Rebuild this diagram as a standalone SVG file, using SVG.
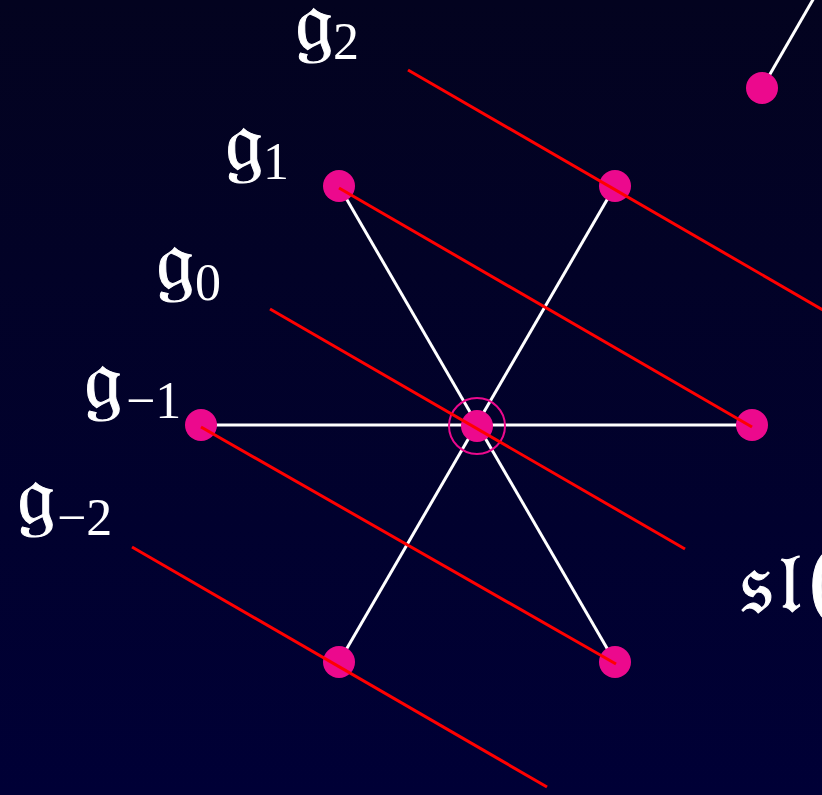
<svg xmlns="http://www.w3.org/2000/svg" width="822" height="795" viewBox="0 0 822 795">
<defs>
<linearGradient id="bg" x1="0" y1="0" x2="0" y2="1">
<stop offset="0" stop-color="#03031f"/>
<stop offset="1" stop-color="#000036"/>
</linearGradient>
<style>
.w{stroke:#ffffff;stroke-width:3;fill:none}
.r{stroke:#ff0000;stroke-width:3;fill:none}
.n{fill:#ec098d}
.lbl{fill:#ffffff;font-family:"DejaVu Serif","DejaVu Sans","Liberation Serif",serif}
.g{font-size:86px;stroke:#ffffff;stroke-width:1}
.s{font-size:52px;font-family:"Liberation Serif",serif}
</style>
</defs>
<rect width="822" height="795" fill="url(#bg)"/>
<g id="connectors">
<line class="w" x1="339" y1="186" x2="615" y2="662"/>
<line class="w" x1="615" y1="186" x2="339" y2="662"/>
<line class="w" x1="201" y1="425" x2="752" y2="425"/>
<line class="w" x1="762" y1="88" x2="822" y2="-16"/>
</g>
<g id="nodes">
<g id="n-center"><circle class="n" cx="477" cy="426" r="16"/><circle cx="477" cy="426" r="28" fill="none" stroke="#ec098d" stroke-width="2"/></g>
<g id="n-ul"><circle class="n" cx="339" cy="186" r="16"/></g>
<g id="n-ur"><circle class="n" cx="615" cy="186" r="16"/></g>
<g id="n-l"><circle class="n" cx="201" cy="425" r="16"/></g>
<g id="n-r"><circle class="n" cx="752" cy="425" r="16"/></g>
<g id="n-dl"><circle class="n" cx="339" cy="662" r="16"/></g>
<g id="n-dr"><circle class="n" cx="615" cy="662" r="16"/></g>
<g id="n-top"><circle class="n" cx="762" cy="88" r="16"/></g>
</g>
<g id="grading">
<line class="r" x1="408" y1="70" x2="823" y2="310"/>
<line class="r" x1="339" y1="188" x2="752" y2="427"/>
<line class="r" x1="270" y1="309" x2="685" y2="549"/>
<line class="r" x1="201" y1="427" x2="616" y2="664"/>
<line class="r" x1="132" y1="547" x2="547" y2="787"/>
</g>
<g id="labels">
<text class="lbl"><tspan class="g" x="295" y="50">𝔤</tspan><tspan class="s" x="333" y="59">2</tspan></text>
<text class="lbl"><tspan class="g" x="225" y="170">𝔤</tspan><tspan class="s" x="263" y="179">1</tspan></text>
<text class="lbl"><tspan class="g" x="156" y="289">𝔤</tspan><tspan class="s" x="195" y="300">0</tspan></text>
<text class="lbl"><tspan class="g" x="84" y="408">𝔤</tspan><tspan class="s" x="126" y="418">−1</tspan></text>
<text class="lbl"><tspan class="g" x="17" y="524">𝔤</tspan><tspan class="s" x="57" y="535">−2</tspan></text>
<text class="lbl" x="740" y="612" font-size="86" letter-spacing="6" stroke="#ffffff" stroke-width="1">𝔰𝔩(</text>
</g>
</svg>
